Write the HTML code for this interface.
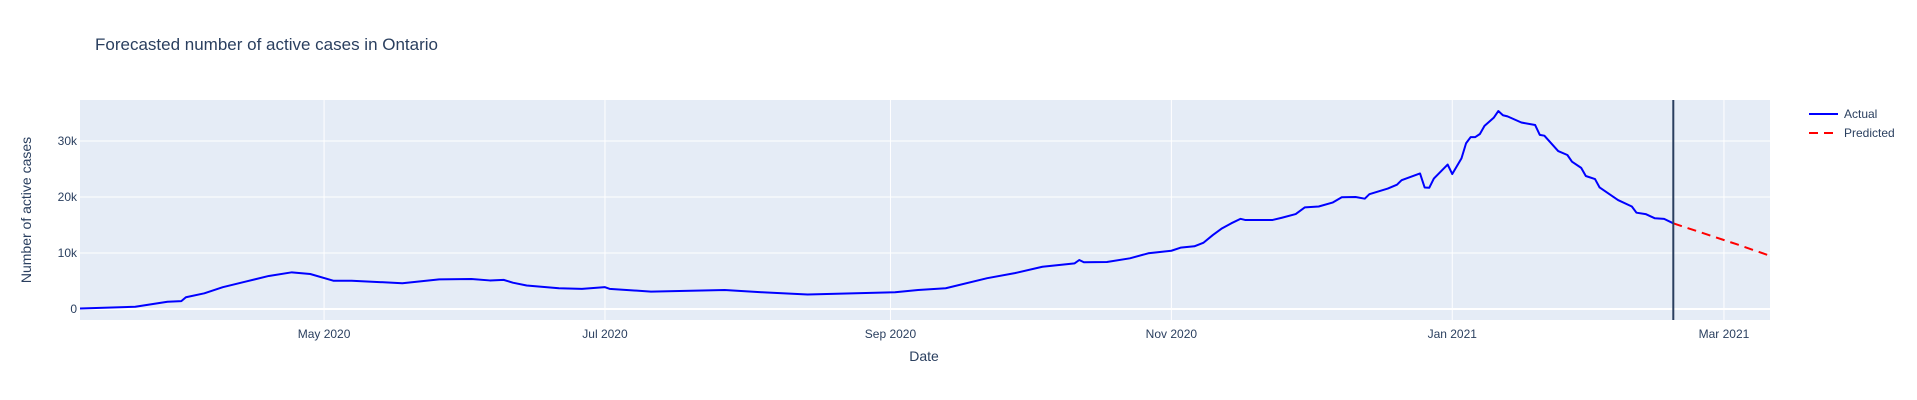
<!DOCTYPE html>
<html><head><meta charset="utf-8"><style>
html,body{margin:0;padding:0;background:#fff;}
svg{display:block;font-family:"Liberation Sans",Arial,sans-serif;}
</style></head><body>
<svg id="chart" width="1917" height="400">
<text x="95" y="50" font-size="17" fill="#2a3f5f">Forecasted number of active cases in Ontario</text>
<rect x="80" y="100" width="1690" height="220" fill="#e5ecf6"/>
<g id="grid"></g>
<g id="series"></g>
<g id="ticks"></g>
<text x="924" y="361" font-size="14" fill="#2a3f5f" text-anchor="middle">Date</text>
<text transform="translate(31,210) rotate(-90)" font-size="14" fill="#2a3f5f" text-anchor="middle">Number of active cases</text>
<g>
<g><line x1="1809" y1="114" x2="1838" y2="114" stroke="#0000ff" stroke-width="2"/><text x="1844" y="118" font-size="12" fill="#2a3f5f">Actual</text></g>
<g><line x1="1809" y1="133" x2="1838" y2="133" stroke="#ff0000" stroke-width="2" stroke-dasharray="9,6"/><text x="1844" y="137" font-size="12" fill="#2a3f5f">Predicted</text></g>
</g>
</svg>
<script>
const actualDates = ["2020-03-09","2020-03-21","2020-03-28","2020-03-31","2020-04-01","2020-04-05","2020-04-09","2020-04-14","2020-04-19","2020-04-24","2020-04-28","2020-05-03","2020-05-07","2020-05-18","2020-05-26","2020-06-02","2020-06-06","2020-06-09","2020-06-11","2020-06-14","2020-06-21","2020-06-26","2020-07-01","2020-07-02","2020-07-11","2020-07-27","2020-08-04","2020-08-14","2020-09-02","2020-09-07","2020-09-13","2020-09-22","2020-09-28","2020-10-04","2020-10-11","2020-10-12","2020-10-13","2020-10-18","2020-10-23","2020-10-27","2020-11-01","2020-11-03","2020-11-06","2020-11-08","2020-11-10","2020-11-12","2020-11-14","2020-11-16","2020-11-17","2020-11-23","2020-11-25","2020-11-28","2020-11-30","2020-12-03","2020-12-06","2020-12-08","2020-12-11","2020-12-13","2020-12-14","2020-12-18","2020-12-20","2020-12-21","2020-12-25","2020-12-26","2020-12-27","2020-12-28","2020-12-31","2021-01-01","2021-01-03","2021-01-04","2021-01-05","2021-01-06","2021-01-07","2021-01-08","2021-01-10","2021-01-11","2021-01-12","2021-01-13","2021-01-16","2021-01-19","2021-01-20","2021-01-21","2021-01-24","2021-01-26","2021-01-27","2021-01-29","2021-01-30","2021-02-01","2021-02-02","2021-02-06","2021-02-09","2021-02-10","2021-02-12","2021-02-14","2021-02-16","2021-02-18"];
const actualValues = [100,400,1300,1400,2100,2800,3900,4900,5900,6550,6250,5050,5050,4600,5300,5350,5100,5200,4700,4200,3700,3600,3900,3600,3100,3400,3000,2600,3000,3400,3700,5500,6400,7550,8150,8750,8350,8400,9050,9950,10400,10950,11200,11850,13200,14400,15300,16100,15900,15900,16300,16950,18150,18300,19000,19950,20000,19700,20500,21500,22200,23000,24200,21700,21650,23300,25800,24100,26900,29600,30700,30700,31250,32700,34150,35350,34600,34400,33300,32850,31100,30950,28200,27500,26300,25200,23750,23200,21700,19450,18300,17200,16950,16200,16100,15300];
const predDates = ["2021-02-18","2021-02-25","2021-03-04","2021-03-11"];
const predValues = [15300,13400,11500,9500];
const yTicks = [0,10000,20000,30000];
const yTickLabels = ["0","10k","20k","30k"];
const xTickDates = ["2020-05-01","2020-07-01","2020-09-01","2020-11-01","2021-01-01","2021-03-01"];
const xTickLabels = ["May 2020","Jul 2020","Sep 2020","Nov 2020","Jan 2021","Mar 2021"];
const cutoffDate = "2021-02-18";

const X0=80,X1=1770,Y0=100,Y1=320;
const T0=Date.UTC(2020,2,9), T1=Date.UTC(2021,2,11);
function t(s){const p=s.split('-');return Date.UTC(+p[0],+p[1]-1,+p[2]);}
function xs(s){return X0+(t(s)-T0)/(T1-T0)*(X1-X0);}
function ys(v){return 309-v/10000*56;}
const NS="http://www.w3.org/2000/svg";
function mk(tag,attrs,parent){const e=document.createElementNS(NS,tag);for(const k in attrs)e.setAttribute(k,attrs[k]);parent.appendChild(e);return e;}
const grid=document.getElementById('grid'),ticks=document.getElementById('ticks'),series=document.getElementById('series');
xTickDates.forEach((d,i)=>{
  const x=xs(d);
  const g=mk('line',{x1:x,x2:x,y1:Y0,y2:Y1,stroke:'#fff','stroke-width':1},grid);
  
  
  const tx=mk('text',{x:x,y:338,'font-size':12,fill:'#2a3f5f','text-anchor':'middle'},ticks);
  tx.textContent=xTickLabels[i];
  
  
});
yTicks.forEach((v,i)=>{
  const y=ys(v);
  const g=mk('line',{x1:X0,x2:X1,y1:y,y2:y,stroke:'#fff','stroke-width':v===0?2:1},grid);
  
  
  const tx=mk('text',{x:77,y:y+4,'font-size':12,fill:'#2a3f5f','text-anchor':'end'},ticks);
  tx.textContent=yTickLabels[i];
  
  
});
const a=mk('polyline',{points:actualDates.map((d,i)=>xs(d)+','+ys(actualValues[i])).join(' '),fill:'none',stroke:'#0000ff','stroke-width':2,'stroke-linejoin':'round'},series);


const p=mk('polyline',{points:predDates.map((d,i)=>xs(d)+','+ys(predValues[i])).join(' '),fill:'none',stroke:'#ff0000','stroke-width':2,'stroke-dasharray':'9,6'},series);


const cx=xs(cutoffDate);
const v=mk('line',{x1:cx,x2:cx,y1:Y0,y2:Y1,stroke:'#2a3f5f','stroke-width':2},series);


</script>
</body></html>
